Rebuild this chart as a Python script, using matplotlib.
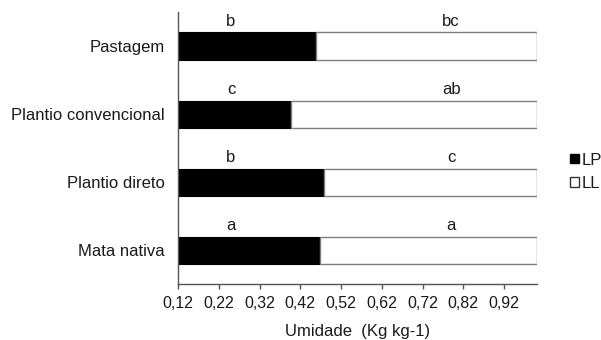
import matplotlib

matplotlib.use("Agg")
import matplotlib.pyplot as plt
from matplotlib.patches import Patch
from matplotlib.ticker import FuncFormatter

plt.rcParams["font.family"] = ["Liberation Sans", "DejaVu Sans"]

# Categories from top to bottom
categories = ["Pastagem", "Plantio convencional", "Plantio direto", "Mata nativa"]
lp_values = [0.459, 0.398, 0.479, 0.469]
ll_values = [1.0, 1.0, 1.0, 1.0]
lp_letters = ["b", "c", "b", "a"]
ll_letters = ["bc", "ab", "c", "a"]
x_ticks = [0.12, 0.22, 0.32, 0.42, 0.52, 0.62, 0.72, 0.82, 0.92]

X_MIN = 0.12
TEXT = "#1a1a1a"
EDGE = "#7f7f7f"
FS = 12

fig = plt.figure(figsize=(6.01, 3.40), dpi=100)
ax = fig.add_axes([0.2962, 0.1638, 0.893 - 0.2962, 0.9647 - 0.1638])

ypos = list(range(len(categories)))
lp_w = [v - X_MIN for v in lp_values]
ll_w = [ll - lp for lp, ll in zip(lp_values, ll_values)]

ax.barh(ypos, lp_w, left=X_MIN, height=0.4, color="black",
        edgecolor="black", linewidth=0.8, label="LP")
ax.barh(ypos, ll_w, left=lp_values, height=0.4, color="white",
        edgecolor=EDGE, linewidth=1.0, label="LL")

# significance letters above each segment
for y, a, b in zip(ypos, lp_letters, ll_letters):
    ax.text(0.25, y - 0.25, a, ha="center", va="bottom", fontsize=FS, color=TEXT)
    ax.text(0.79, y - 0.25, b, ha="center", va="bottom", fontsize=FS, color=TEXT)

ax.set_xlim(X_MIN, 1.0)
ax.set_ylim(len(categories) - 0.5, -0.5)
ax.set_yticks(ypos)
ax.set_yticklabels(categories)
ax.set_xticks(x_ticks)
ax.xaxis.set_major_formatter(FuncFormatter(lambda v, _: f"{v:.2f}".replace(".", ",")))

for side in ("top", "right"):
    ax.spines[side].set_visible(False)
for side in ("left", "bottom"):
    ax.spines[side].set_color("#555555")
    ax.spines[side].set_linewidth(1.0)

ax.tick_params(axis="y", length=0, pad=9.5, labelsize=FS, labelcolor=TEXT)
ax.tick_params(axis="x", length=3.6, width=1.0, color="#555555", pad=5,
               labelsize=11.5, labelcolor=TEXT)
ax.set_xlabel("Umidade  (Kg kg-1)", fontsize=FS, color=TEXT, labelpad=9)

handles = [Patch(facecolor="black", edgecolor="black", label="LP"),
           Patch(facecolor="white", edgecolor="#333333", label="LL")]
fig.legend(handles=handles, loc="center left", bbox_to_anchor=(0.949, 0.495),
           frameon=False, handlelength=0.5, handleheight=0.5, handletextpad=0.15,
           labelspacing=0.5, fontsize=FS, labelcolor=TEXT, borderaxespad=0,
           borderpad=0)

fig.savefig("out.png", dpi=100)
